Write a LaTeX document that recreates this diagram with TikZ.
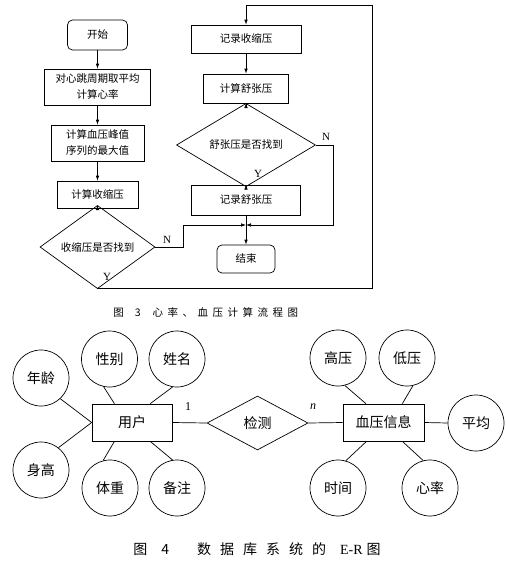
\documentclass[tikz,border=0pt]{standalone}
\usepackage{fontspec}
\setmainfont{Liberation Serif}
\newfontfamily\cjk{Noto Sans CJK SC}
\usetikzlibrary{shapes.geometric,arrows.meta}
\begin{document}
\begin{tikzpicture}[x=1pt,y=-1pt,line width=0.7pt,
  fbox/.style={draw,rectangle,inner sep=0pt,align=center,font=\cjk\fontsize{10.5}{16}\selectfont},
  rbox/.style={fbox,rounded corners=5pt},
  fdia/.style={draw,diamond,inner sep=0pt,font=\cjk\fontsize{10.5}{16}\selectfont},
  arr/.style={-{Latex[length=5pt,width=3.6pt]}},
  lab/.style={inner sep=0pt,font=\fontsize{11}{12}\selectfont},
  ent/.style={draw,rectangle,inner sep=0pt,minimum height=37pt,font=\cjk\fontsize{14}{16}\selectfont},
  attr/.style={draw,circle,inner sep=0pt,minimum size=56pt,font=\cjk\fontsize{14}{16}\selectfont},
  erdia/.style={draw,diamond,inner sep=0pt,minimum width=101pt,minimum height=54pt,font=\cjk\fontsize{14}{16}\selectfont},
  capt/.style={inner sep=0pt,anchor=west}
]
\useasboundingbox (0,0) rectangle (506,568);
% ---------- flowchart left column
\node[rbox,minimum width=60pt,minimum height=30pt] (start) at (97.5,35) {开始};
\node[fbox,minimum width=106pt,minimum height=36pt] (b1) at (97.5,87) {对心跳周期取平均\\计算心率};
\node[fbox,minimum width=93pt,minimum height=36pt] (b2) at (97.5,143) {计算血压峰值\\序列的最大值};
\node[fbox,minimum width=81pt,minimum height=27pt] (b3) at (97.5,194.5) {计算收缩压};
\node[fdia,minimum width=115pt,minimum height=42pt] (d1) at (97.5,247) {收缩压是否找到};
% ---------- right column
\node[fbox,minimum width=110pt,minimum height=28pt] (r1) at (246,39) {记录收缩压};
\node[fbox,minimum width=85pt,minimum height=29pt] (r2) at (246,88.5) {计算舒张压};
\node[fdia,minimum width=139pt,minimum height=42pt] (d2) at (246,145) {舒张压是否找到};
\node[fbox,minimum width=109pt,minimum height=30pt] (r3) at (246,200) {记录舒张压};
\node[rbox,minimum width=58pt,minimum height=28pt] (end) at (246,259) {结束};
\coordinate (j) at (246,225);
\coordinate (yb) at (97.5,288);
\coordinate (yr) at (372,288);
\coordinate (tr) at (372,5);
\coordinate (tl) at (246,5);
\coordinate (n1a) at (183,247);
\coordinate (n2a) at (333,145);
\draw[arr] (start) -- (b1);
\draw[arr] (b1) -- (b2);
\draw[arr] (b2) -- (b3);
\draw[arr] (b3) -- (d1);
\draw[arr] (d1.south) -- (yb) -- (yr) -- (tr) -- (tl) -- (r1.north);
\draw[arr] (d1.east) -- (n1a) |- (j);
\draw[arr] (r1) -- (r2);
\draw[arr] (r2) -- (d2);
\draw[arr] (d2) -- (r3);
\draw[arr] (d2.east) -- (n2a) |- (j);
\draw (r3) -- (j);
\draw[arr] (j) -- (end);
\node[lab] (ln1) at (167,240) {N};
\node[lab] (ly1) at (107,277) {Y};
\node[lab] (ln2) at (326,137) {N};
\node[lab] (ly2) at (258,174) {Y};
\node[capt,font=\cjk\fontsize{10.5}{12}\selectfont] (cap3) at (113,312)
  {图\hspace{11pt}3\hspace{12pt}心\hspace{4.5pt}率\hspace{4.5pt}、\hspace{4.5pt}血\hspace{4.5pt}压\hspace{4.5pt}计\hspace{4.5pt}算\hspace{4.5pt}流\hspace{4.5pt}程\hspace{4.5pt}图};
% ---------- ER diagram
\node[ent,minimum width=80pt] (yh) at (132,422.5) {用户};
\node[erdia] (jc) at (257.5,423) {检测};
\node[ent,minimum width=81pt] (xy) at (383.5,422.5) {血压信息};
\node[attr] (nl) at (41,378) {年龄};
\node[attr] (sg) at (41,470) {身高};
\node[attr] (xb) at (109.5,359) {性别};
\node[attr] (xm) at (177,359) {姓名};
\node[attr] (tz) at (110,488) {体重};
\node[attr] (bz) at (177,488) {备注};
\node[attr] (gy) at (338,358) {高压};
\node[attr] (dy) at (407,358) {低压};
\node[attr] (pj) at (476,423) {平均};
\node[attr] (sj) at (338,488) {时间};
\node[attr] (xl) at (430,488) {心率};
\draw (yh.east) -- (jc.west);
\draw (jc.east) -- (xy.west);
\draw (yh.west) -- (nl.313);
\draw (yh.west) -- (sg.52);
\draw (yh.133) -- (xb.258);
\draw (yh.46) -- (xm.261);
\draw (yh.227) -- (tz.104);
\draw (yh.314) -- (bz.99);
\draw (xy.133) -- (gy.284);
\draw (xy.45) -- (dy.282);
\draw (xy.east) -- (pj.west);
\draw (xy.228) -- (sj.74);
\draw (xy.315) -- (xl.104);
\node[lab,font=\fontsize{12}{12}\selectfont] (l1) at (188,407) {1};
\node[lab,font=\fontsize{12}{12}\selectfont\itshape] (ln) at (313,407) {n};
\node[capt,font=\cjk\fontsize{14}{15}\selectfont] (cap4) at (133,549)
  {图\hspace{14pt}4\hspace{28pt}数\hspace{9pt}据\hspace{9pt}库\hspace{9pt}系\hspace{9pt}统\hspace{9pt}的\hspace{14pt}{\fontspec{Liberation Serif}E-R}\hspace{4pt}图};
\end{tikzpicture}
\end{document}
